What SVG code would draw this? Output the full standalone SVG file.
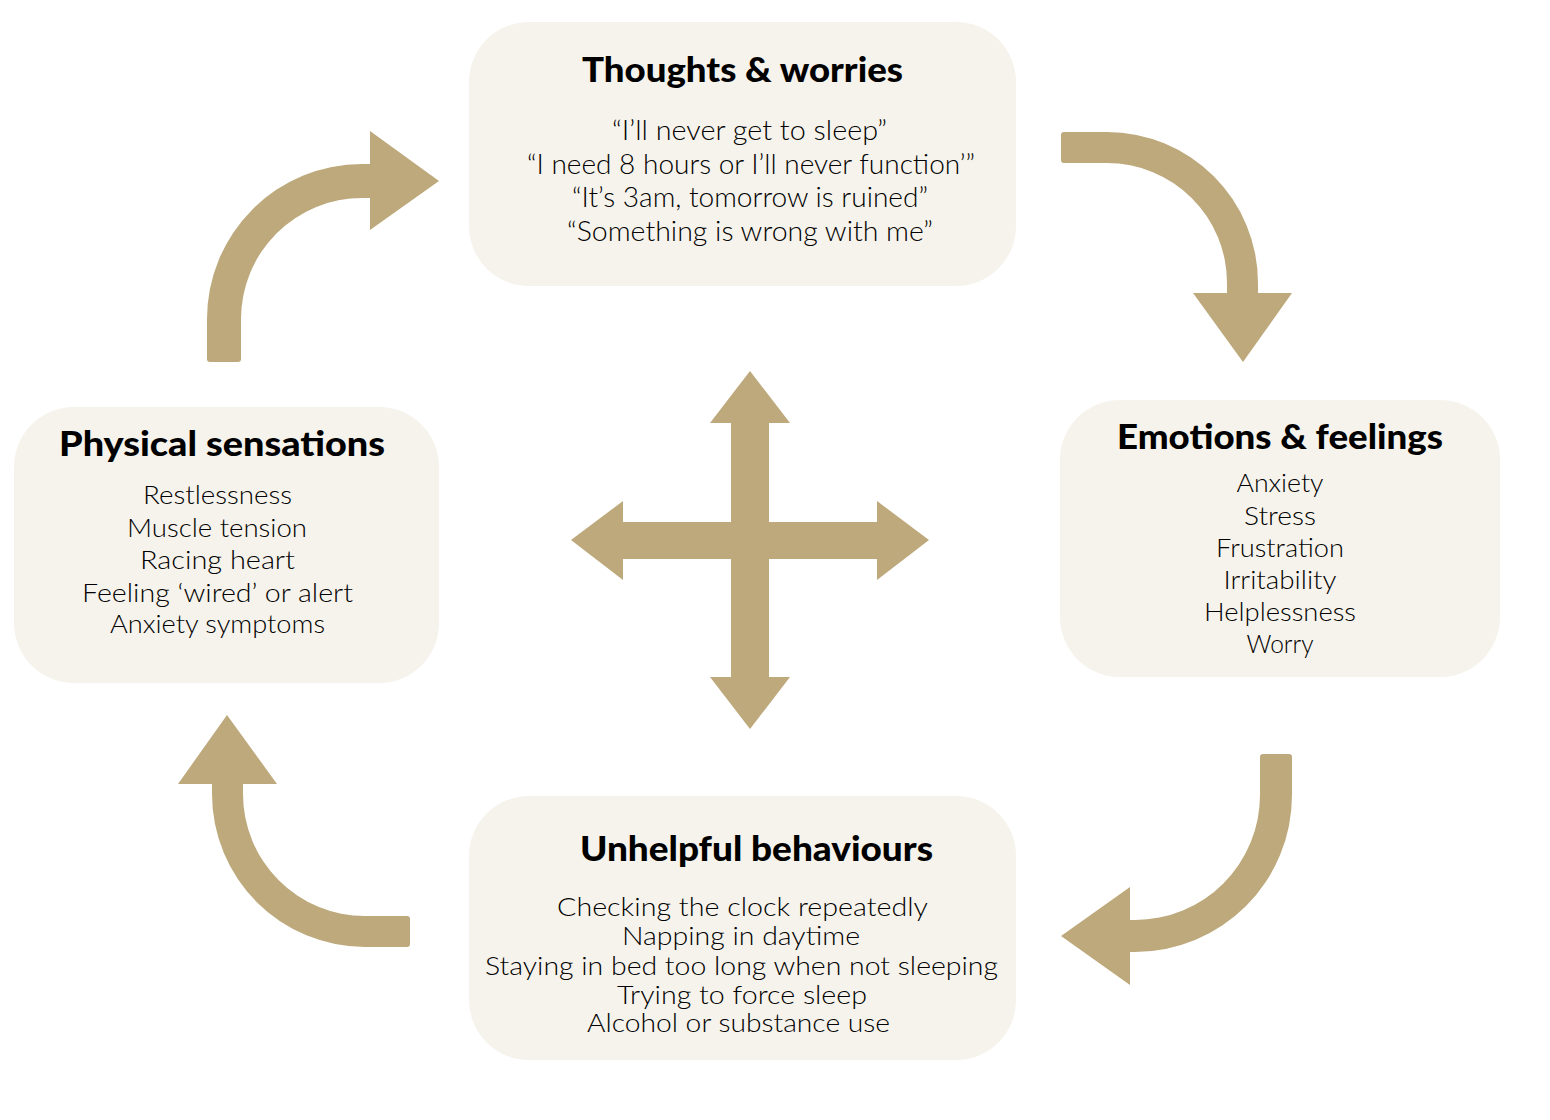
<svg xmlns="http://www.w3.org/2000/svg" width="1550" height="1120" viewBox="0 0 1550 1120">
  <style>
    .box { fill: #f6f3ec; }
    .arrow { fill: #bda97b; }
    .title { font-family: "Lato", "Liberation Sans", sans-serif; font-weight: 900; fill: #000; text-anchor: middle; font-size: 34px; }
    .body { font-family: "Lato", "Liberation Sans", sans-serif; font-weight: 300; fill: #000; text-anchor: middle; }
    .b27 { font-size: 27px; }
    .b26 { font-size: 26px; }
    .b25 { font-size: 25px; }
  </style>
  <rect width="1550" height="1120" fill="#ffffff"/>

  <g id="thoughts">
    <rect class="box" x="469" y="22" width="547" height="264" rx="60" ry="60"/>
    <text class="title" x="742.5" y="82" textLength="321" lengthAdjust="spacingAndGlyphs">Thoughts &amp; worries</text>
    <text class="body b27" x="749.5" y="140" textLength="275" lengthAdjust="spacingAndGlyphs">“I’ll never get to sleep”</text>
    <text class="body b27" x="751" y="174" textLength="448" lengthAdjust="spacingAndGlyphs">“I need 8 hours or I’ll never function’”</text>
    <text class="body b27" x="750" y="207" textLength="356" lengthAdjust="spacingAndGlyphs">“It’s 3am, tomorrow is ruined”</text>
    <text class="body b27" x="750" y="241" textLength="366" lengthAdjust="spacingAndGlyphs">“Something is wrong with me”</text>
  </g>

  <g id="emotions">
    <rect class="box" x="1060" y="400" width="440" height="277" rx="60" ry="60"/>
    <text class="title" x="1280" y="449" textLength="326" lengthAdjust="spacingAndGlyphs">Emotions &amp; feelings</text>
    <text class="body b26" x="1280" y="492" textLength="87" lengthAdjust="spacingAndGlyphs">Anxiety</text>
    <text class="body b26" x="1280" y="525" textLength="72" lengthAdjust="spacingAndGlyphs">Stress</text>
    <text class="body b26" x="1280" y="557" textLength="128" lengthAdjust="spacingAndGlyphs">Frustration</text>
    <text class="body b26" x="1280" y="589" textLength="113" lengthAdjust="spacingAndGlyphs">Irritability</text>
    <text class="body b26" x="1280" y="621" textLength="152" lengthAdjust="spacingAndGlyphs">Helplessness</text>
    <text class="body b26" x="1280" y="653" textLength="67" lengthAdjust="spacingAndGlyphs">Worry</text>
  </g>

  <g id="physical">
    <rect class="box" x="14" y="407" width="425" height="276" rx="60" ry="60"/>
    <text class="title" x="222" y="456" textLength="326" lengthAdjust="spacingAndGlyphs">Physical sensations</text>
    <text class="body b26" x="217.5" y="504" textLength="149" lengthAdjust="spacingAndGlyphs">Restlessness</text>
    <text class="body b26" x="217" y="537" textLength="180" lengthAdjust="spacingAndGlyphs">Muscle tension</text>
    <text class="body b26" x="217.5" y="569" textLength="155" lengthAdjust="spacingAndGlyphs">Racing heart</text>
    <text class="body b26" x="217.5" y="602" textLength="271" lengthAdjust="spacingAndGlyphs">Feeling ‘wired’ or alert</text>
    <text class="body b26" x="217.5" y="633" textLength="215" lengthAdjust="spacingAndGlyphs">Anxiety symptoms</text>
  </g>

  <g id="behaviours">
    <rect class="box" x="469" y="796" width="547" height="264" rx="60" ry="60"/>
    <text class="title" x="756.5" y="861" textLength="353" lengthAdjust="spacingAndGlyphs">Unhelpful behaviours</text>
    <text class="body b25" x="742.5" y="916" textLength="371" lengthAdjust="spacingAndGlyphs">Checking the clock repeatedly</text>
    <text class="body b25" x="741" y="945" textLength="238" lengthAdjust="spacingAndGlyphs">Napping in daytime</text>
    <text class="body b25" x="741.5" y="975" textLength="513" lengthAdjust="spacingAndGlyphs">Staying in bed too long when not sleeping</text>
    <text class="body b25" x="742" y="1004" textLength="250" lengthAdjust="spacingAndGlyphs">Trying to force sleep</text>
    <text class="body b25" x="738.5" y="1032" textLength="303" lengthAdjust="spacingAndGlyphs">Alcohol or substance use</text>
  </g>

  <g id="connectors">
    <path class="arrow" d="M1064,132 L1107,132 A151,151 0 0 1 1258,283 L1258,293 L1292,293 L1243,362 L1193,293 L1227,293 L1227,283 A120,120 0 0 0 1107,163 L1064,163 Q1061,163 1061,160 L1061,135 Q1061,132 1064,132 Z"/>
    <path class="arrow" d="M1263,754 L1289,754 Q1292,754 1292,757 L1292,795 A157,157 0 0 1 1135,952 L1130,952 L1130,985 L1061,936 L1130,887 L1130,920 L1135,920 A125,125 0 0 0 1260,795 L1260,757 Q1260,754 1263,754 Z"/>
    <path class="arrow" d="M407,947 L365,947 A153,153 0 0 1 212,794 L212,784 L178,784 L227,715 L277,784 L243,784 L243,794 A122,122 0 0 0 365,916 L407,916 Q410,916 410,919 L410,944 Q410,947 407,947 Z"/>
    <path class="arrow" d="M207,359 L207,319 A155,155 0 0 1 362,164 L370,164 L370,131 L439,181 L370,230 L370,198 L362,198 A121,121 0 0 0 241,319 L241,359 Q241,362 238,362 L210,362 Q207,362 207,359 Z"/>
    <polygon class="arrow" points="750,371 790,423 769,423 769,522 877,522 877,501 929,540 877,580 877,559 769,559 769,677 790,677 750,729 710,677 731,677 731,559 623,559 623,580 571,540 623,501 623,522 731,522 731,423 710,423"/>
  </g>
</svg>
